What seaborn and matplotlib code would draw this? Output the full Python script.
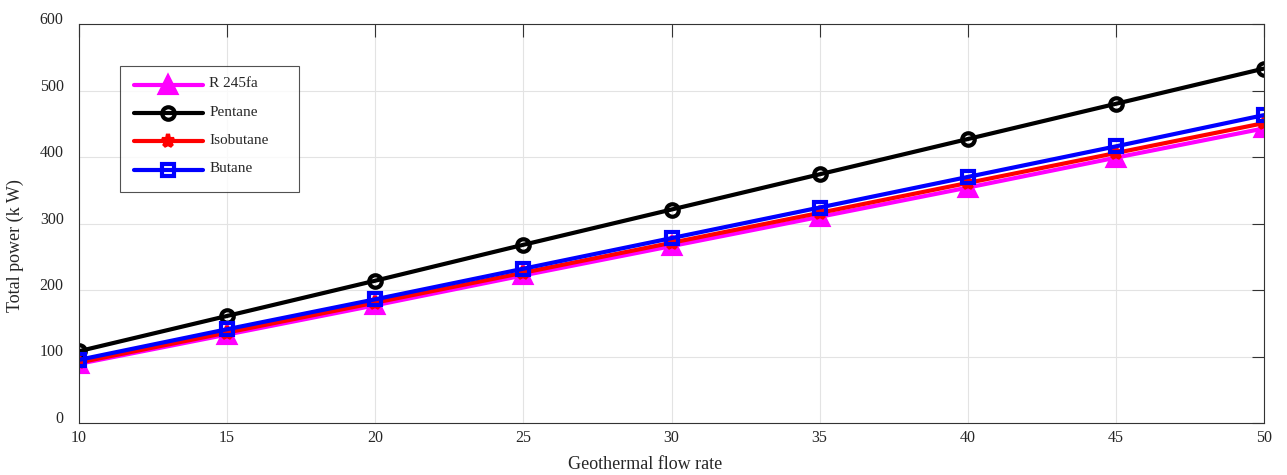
import matplotlib
matplotlib.use("Agg")
import matplotlib.pyplot as plt
import seaborn as sns
import pandas as pd

flow = [10, 15, 20, 25, 30, 35, 40, 45, 50]
r245fa = [89, 133, 177, 222, 266, 310, 354, 399, 443]
pentane = [108, 161, 214, 268, 321, 374, 427, 480, 533]
isobutane = [91, 136, 181, 226, 271, 316, 361, 406, 451]
butane = [95, 141, 186, 232, 278, 324, 370, 416, 463]

series_names = ["R 245fa", "Pentane", "Isobutane", "Butane"]
series_vals = [r245fa, pentane, isobutane, butane]
colors = ["#ff00ff", "#000000", "#ff0000", "#0000ff"]
markers = ["^", "o", "*", "s"]
faces = ["#ff00ff", "none", "#ff0000", "none"]
msizes = [11, 9, 9.5, 8.5]

sns.set_theme(style="whitegrid")
plt.rcParams["font.family"] = ["Liberation Serif", "DejaVu Serif"]

rows = []
for n, v in zip(series_names, series_vals):
    for x, y in zip(flow, v):
        rows.append({"flow": x, "power": y, "fluid": n})
df = pd.DataFrame(rows)

fig = plt.figure(figsize=(12.87, 4.75), dpi=100)
ax = fig.add_axes([79/1287, 52/475, (1264-79)/1287, (423-24)/475])

for n, c, m, fc, ms in zip(series_names, colors, markers, faces, msizes):
    sub = df[df.fluid == n]
    sns.lineplot(data=sub, x="flow", y="power", ax=ax, color=c, linewidth=3,
                 marker=m, markersize=ms, markerfacecolor=fc,
                 markeredgecolor=c, markeredgewidth=3, label=n)

ax.set_xlim(10, 50)
ax.set_ylim(0, 600)
ax.set_xticks(range(10, 51, 5))
ax.set_yticks(range(0, 601, 100))
ax.set_xlabel("Geothermal flow rate", fontsize=13, color="#262626")
ax.set_ylabel("Total power (k W)", fontsize=13, color="#262626")
ax.xaxis.set_label_coords(0.478, -0.082)
ax.yaxis.set_label_coords(-0.046, 0.444)
ax.tick_params(axis="both", direction="in", length=9, width=0.8, colors="#333333",
               labelsize=11.5, top=True, right=True, labelcolor="#262626")
ax.tick_params(axis="y", pad=11)
ax.tick_params(axis="x", pad=5)
plt.setp(ax.get_yticklabels(), va="baseline")
ax.grid(True, color="#e3e3e3", linewidth=0.8)
ax.set_facecolor("white")
for s in ax.spines.values():
    s.set_color("#333333")
    s.set_linewidth(0.8)

leg = ax.legend(loc="upper left", bbox_to_anchor=(0.0346, 0.5, 0.151, 0.395),
                mode="expand", borderaxespad=0, frameon=True,
                fancybox=False, edgecolor="#262626", fontsize=11, handlelength=4.5,
                labelspacing=0.95, borderpad=0.9, handletextpad=0.45)
leg.get_frame().set_linewidth(0.8)
for t in leg.get_texts():
    t.set_va("bottom")

fig.savefig("out.png", dpi=100, facecolor="white")
